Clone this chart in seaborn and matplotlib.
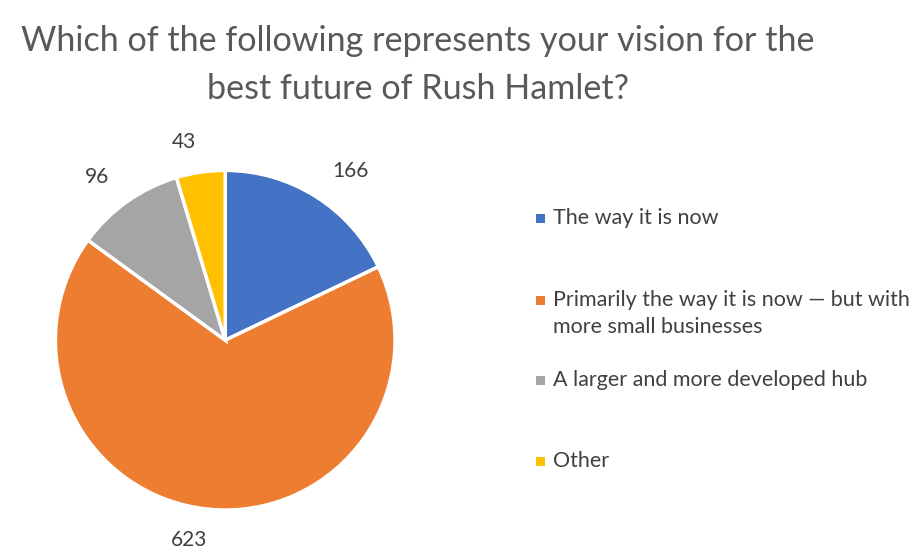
import matplotlib
matplotlib.use('Agg')
import matplotlib.pyplot as plt
import seaborn as sns
from matplotlib.patches import Rectangle

sns.set_theme(style='white')
plt.rcParams['font.family'] = ['Lato', 'DejaVu Sans']

# data
categories = [
    'The way it is now',
    'Primarily the way it is now \u2014 but with\nmore small businesses',
    'A larger and more developed hub',
    'Other',
]
counts = [166, 623, 96, 43]
colors = ['#4472C4', '#ED7D31', '#A5A5A5', '#FFC000']

W, H = 923, 560
fig = plt.figure(figsize=(W / 100, H / 100), dpi=100)

ax = fig.add_axes([0.060, 0.089, 0.368, 0.607])
wedges, texts = ax.pie(
    counts,
    labels=[str(c) for c in counts],
    colors=colors,
    startangle=90,
    counterclock=False,
    labeldistance=1.18,
    wedgeprops=dict(edgecolor='white', linewidth=2.5),
    textprops=dict(color='#404040', fontsize=15),
)
ax.set_xlim(-1, 1)
ax.set_ylim(-1, 1)
ax.set_aspect('equal')

# title
fig.text(0.453, 0.884, 'Which of the following represents your vision for the\nbest future of Rush Hamlet?',
         ha='center', va='center', fontsize=24.6, color='#595959', linespacing=1.65)

# legend (Excel style, drawn by hand)
legend_y = [218, 300, 380, 461]   # pixel rows of first line
for lab, col, yp in zip(categories, colors, legend_y):
    fig.patches.append(Rectangle(((540 - 4.5) / W, 1 - (yp + 4.5) / H), 9 / W, 9 / H,
                                 transform=fig.transFigure, facecolor=col, edgecolor='none'))
    for i, line in enumerate(lab.split('\n')):
        fig.text(553 / W, 1 - (yp + 27 * i) / H, line, ha='left', va='center',
                 fontsize=15.5, color='#404040')

plt.savefig('out.png', dpi=100)
plt.close()
